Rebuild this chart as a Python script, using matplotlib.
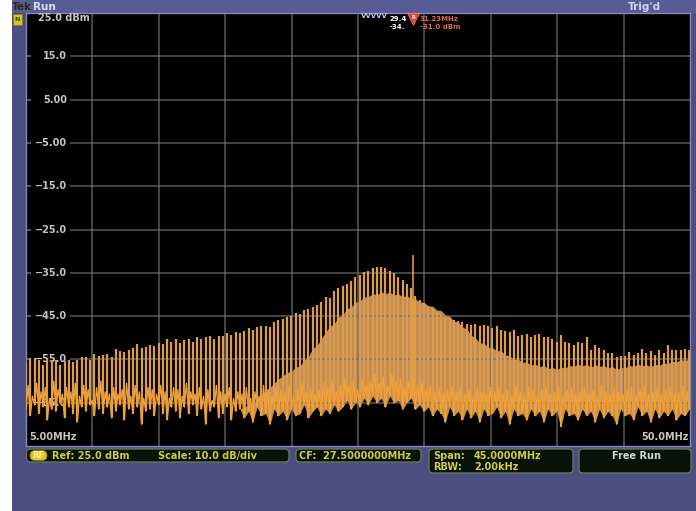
import numpy as np
import matplotlib.pyplot as plt
from matplotlib.patches import Rectangle, FancyBboxPatch

# instrument settings
ref_level = 25.0      # dBm, top of screen
scale_db = 10.0       # dB per division
start_mhz = 5.0
stop_mhz = 50.0
center_mhz = 27.5
span_mhz = 45.0
rbw_khz = 2.00
line_spacing = 0.29   # MHz between comb lines

# marker readouts
marker_freq = 31.23
marker_level = -31.0
marker2_freq = 29.4
marker2_level = -34.0

y_labels = ['15.0', '5.00', '\u22125.00', '\u221215.0', '\u221225.0',
            '\u221235.0', '\u221245.0', '\u221255.0', '\u221265.0']

# top of each comb line (dBm) left to right
peak_dbm = [
    -55.9, -54.7, -54.7, -55.1, -56.3, -54.7, -55.1, -55.1, -56.3, -55.3,
    -55.1, -55.5, -55.1, -54.5, -54.5, -55.1, -53.8, -54.2, -54.0, -53.8,
    -54.4, -52.7, -53.0, -53.2, -52.8, -52.4, -51.4, -52.4, -52.1, -51.6,
    -52.0, -51.2, -51.5, -50.3, -51.0, -50.4, -51.3, -50.6, -50.4, -50.9,
    -49.9, -50.3, -49.8, -49.6, -50.2, -49.5, -49.7, -49.0, -49.3, -48.7,
    -48.9, -48.4, -47.8, -48.1, -47.6, -47.4, -47.2, -47.5, -46.4, -46.0,
    -45.6, -45.3, -45.0, -44.2, -44.5, -43.6, -43.3, -42.9, -42.5, -41.8,
    -40.5, -40.9, -39.3, -38.5, -38.0, -37.6, -36.8, -35.9, -35.6, -34.9,
    -34.6, -34.0, -33.7, -33.6, -33.9, -34.6, -35.0, -35.9, -36.6, -37.6,
    -38.4, -40.3, -41.2, -42.0, -42.8, -43.2, -44.0, -44.5, -45.0, -45.5,
    -45.9, -46.1, -46.3, -46.8, -47.0, -46.9, -47.3, -47.1, -47.3, -47.8,
    -47.4, -48.2, -48.4, -48.6, -48.2, -49.6, -49.4, -49.1, -49.8, -49.4,
    -49.1, -49.9, -49.8, -50.4, -50.9, -49.4, -50.9, -51.3, -51.7, -50.9,
    -51.3, -49.9, -52.8, -51.7, -52.4, -52.8, -53.6, -53.6, -54.4, -54.2,
    -54.2, -53.2, -54.0, -53.6, -52.7, -53.6, -53.0, -54.0, -52.8, -53.6,
    -51.7, -52.8, -52.8, -52.8, -52.7, -52.8,
]

# bottom of each comb line (dBm)
floor_dbm = [
    -66.5, -68.0, -65.5, -67.5, -66.0, -69.0, -66.5, -67.0, -65.0, -68.5,
    -66.0, -67.5, -69.5, -66.0, -67.0, -65.5, -68.0, -66.5, -67.5, -66.0,
    -68.5, -67.0, -65.5, -69.0, -66.5, -67.5, -66.0, -70.0, -67.0, -66.5,
    -68.0, -65.5, -67.5, -69.0, -66.0, -67.0, -68.5, -66.0, -67.5, -65.5,
    -68.0, -66.5, -70.0, -67.0, -66.0, -68.5, -67.5, -66.0, -69.0, -67.0,
    -66.5, -68.5, -67.0, -69.5, -66.0, -68.0, -67.5, -70.0, -66.5, -68.0,
    -67.0, -69.0, -66.5, -68.0, -67.5, -65.5, -68.5, -67.0, -66.0, -68.0,
    -66.5, -67.5, -65.5, -67.0, -66.0, -64.5, -66.5, -65.0, -66.0, -64.0,
    -65.5, -63.5, -65.0, -64.0, -66.0, -63.5, -65.0, -64.5, -66.5, -65.0,
    -64.0, -66.5, -65.5, -67.0, -66.0, -68.0, -66.5, -67.5, -69.5, -66.0,
    -68.0, -67.0, -69.0, -66.5, -68.5, -67.0, -69.5, -66.5, -68.0, -67.5,
    -66.0, -68.5, -67.0, -70.0, -66.5, -68.0, -67.5, -69.0, -66.5, -68.0,
    -67.0, -69.5, -66.5, -68.0, -67.0, -70.5, -66.5, -68.0, -67.5, -69.0,
    -66.5, -68.0, -67.0, -69.5, -66.5, -68.5, -67.0, -68.0, -70.0, -66.5,
    -68.0, -67.5, -69.0, -66.0, -68.0, -67.0, -69.5, -66.5, -68.5, -67.0,
    -68.0, -66.5, -69.0, -67.5, -68.0, -66.5,
]

# noise level halfway between lines (dBm)
gap_dbm = [
    -61.0, -63.5, -60.5, -62.5, -61.5, -64.0, -60.0, -62.0, -63.0, -61.5,
    -62.5, -60.5, -63.5, -61.0, -62.0, -64.5, -61.5, -60.0, -62.5, -63.0,
    -61.5, -63.0, -62.0, -60.5, -63.5, -61.0, -62.5, -64.0, -61.5, -62.0,
    -63.0, -61.0, -62.5, -64.0, -61.5, -62.0, -63.5, -60.5, -62.5, -63.0,
    -61.5, -63.5, -62.0, -64.5, -61.0, -62.5, -63.0, -61.5, -64.0, -62.5,
    -63.0, -61.5, -64.0, -62.5, -63.5, -61.0, -62.5, -63.5, -61.5, -62.0,
    -62.5, -61.0, -63.5, -62.0, -60.5, -62.5, -61.5, -63.0, -62.0, -60.5,
    -61.5, -60.0, -62.5, -61.0, -59.5, -61.0, -60.0, -62.0, -59.5, -61.0,
    -60.0, -58.5, -60.5, -59.0, -61.0, -58.5, -60.0, -59.5, -61.5, -60.0,
    -59.5, -61.0, -60.5, -62.0, -61.0, -62.5, -61.5, -63.0, -62.0, -61.0,
    -62.5, -61.5, -63.0, -62.0, -63.5, -61.5, -62.5, -63.0, -61.5, -62.5,
    -61.5, -63.0, -62.0, -63.5, -61.0, -62.5, -63.0, -61.5, -62.0, -63.5,
    -62.0, -61.0, -63.0, -62.5, -61.5, -63.5, -62.0, -61.5, -63.0, -62.5,
    -61.5, -63.0, -62.0, -63.5, -61.0, -62.5, -63.0, -61.5, -62.5, -63.0,
    -62.0, -61.5, -63.5, -62.0, -61.0, -63.0, -62.5, -61.5, -63.0, -62.0,
    -61.5, -63.0, -62.5, -61.0, -62.5, -63.0,
]

# top of the dense band, from comb line 50 onward (dBm)
band_start = 50
band_dbm = [
    -66.5, -66.0, -65.5, -65.0, -64.3, -63.5, -62.0, -61.5, -60.5, -59.5,
    -58.8, -58.0, -57.8, -56.8, -56.5, -55.2, -54.3, -52.5, -51.8, -50.2,
    -48.8, -47.3, -46.8, -45.2, -44.8, -43.3, -42.9, -41.8, -41.5, -40.6,
    -40.5, -39.8, -40.1, -39.4, -39.8, -39.5, -40.1, -39.9, -40.5, -40.3,
    -41.0, -41.0, -41.8, -41.8, -42.6, -42.7, -43.6, -43.7, -44.7, -45.0,
    -46.2, -46.4, -47.5, -48.0, -49.4, -50.0, -51.2, -51.3, -52.2, -52.3,
    -53.0, -53.0, -54.0, -54.1, -55.0, -54.9, -55.7, -55.6, -56.3, -56.1,
    -56.7, -56.3, -57.2, -56.8, -57.4, -56.8, -57.0, -56.4, -56.6, -56.1,
    -56.5, -56.1, -56.8, -56.2, -56.6, -56.4, -57.0, -56.6, -57.4, -56.8,
    -57.0, -56.4, -56.6, -56.1, -56.5, -56.2, -56.7, -56.1, -56.4, -55.8,
    -56.0, -55.4, -55.6, -55.0, -55.3, -54.8,
]

BG = '#4a4e80'
BAR = '#575c94'
GRID = '#6e6e6e'
LABEL = '#c4c4c4'
BRIGHT = '#f5a030'
LINE = '#da9b52'
TAN = '#c48d50'
YEL = '#cfcc45'

W, H = 696, 511
fig = plt.figure(figsize=(W / 100, H / 100), dpi=100)

# frame in pixel coordinates
bg = fig.add_axes([0, 0, 1, 1])
bg.set_xlim(0, W)
bg.set_ylim(H, 0)
bg.set_axis_off()
bg.add_patch(Rectangle((0, 0), 12, H, fc='white', ec='none'))
bg.add_patch(Rectangle((12, 0), W - 12, H, fc=BG, ec='none'))
bg.add_patch(Rectangle((12, 0), W - 12, 13, fc=BAR, ec='none'))
bg.text(12, 6.5, 'Tek', color='#2a2a12', fontsize=7.5, fontweight='bold', va='center')
bg.text(33, 6.5, 'Run', color='#d8dcf5', fontsize=7.5, fontweight='bold', va='center')
bg.text(628, 6.5, "Trig'd", color='#cfd3f0', fontsize=7.5, fontweight='bold', va='center')
bg.add_patch(Rectangle((13, 14), 9, 11, fc='#d9c31d', ec='#8a7a10', lw=0.5))
bg.text(17.5, 19.5, 'N', color='#1e5a1e', fontsize=4.5, fontweight='bold', ha='center', va='center')

# status boxes
def box(x, y, w, h):
    bg.add_patch(FancyBboxPatch((x, y), w, h, boxstyle='round,pad=0,rounding_size=4',
                                fc='#081208', ec='#66765a', lw=1))

box(26.5, 449, 262.5, 13)
box(296, 449, 125, 13)
box(429, 449, 144, 24)
box(579, 449, 112, 24)
bg.add_patch(FancyBboxPatch((30, 450.5), 17, 10, boxstyle='round,pad=0,rounding_size=5',
                            fc='#e3c22a', ec='#8a7010', lw=0.6))
bg.text(38.5, 455.8, 'RF', color='#fff2a0', fontsize=6, fontweight='bold', ha='center', va='center')
fs = 7
bg.text(52, 455.8, f'Ref: {ref_level:.1f} dBm', color=YEL, fontsize=fs, fontweight='bold', va='center')
bg.text(158, 455.8, f'Scale: {scale_db:.1f} dB/div', color=YEL, fontsize=fs, fontweight='bold', va='center')
bg.text(299, 455.8, f'CF:  {center_mhz:.7f}MHz', color=YEL, fontsize=fs, fontweight='bold', va='center')
bg.text(433, 455.8, 'Span:', color=YEL, fontsize=fs, fontweight='bold', va='center')
bg.text(474, 455.8, f'{span_mhz:.4f}MHz', color=YEL, fontsize=fs, fontweight='bold', va='center')
bg.text(433, 466.5, 'RBW:', color=YEL, fontsize=fs, fontweight='bold', va='center')
bg.text(474, 466.5, f'{rbw_khz:.2f}kHz', color=YEL, fontsize=fs, fontweight='bold', va='center')
bg.text(636, 455.8, 'Free Run', color='#d0dcd0', fontsize=fs, fontweight='bold', ha='center', va='center')

# graticule
ax = fig.add_axes([26 / W, 1 - 446 / H, 664 / W, 433 / H])
ax.set_facecolor('black')
ax.set_xlim(start_mhz, stop_mhz)
ax.set_ylim(ref_level - 10 * scale_db, ref_level)
ax.set_xticks([])
ax.set_yticks([])
for s in ax.spines.values():
    s.set_color('#8489b8')
    s.set_linewidth(1)

levels = ref_level - scale_db * np.arange(1, 10)
ytr = ax.get_yaxis_transform()
ax.vlines(start_mhz + (stop_mhz - start_mhz) / 10 * np.arange(1, 10),
          ref_level - 10 * scale_db, ref_level, color=GRID, lw=1.1, zorder=2.5, alpha=0.8)
ax.hlines(levels, 0.066, 1, transform=ytr, color=GRID, lw=1.1, zorder=2.5, alpha=0.8)
ax.hlines(levels, 0.002, 0.008, transform=ytr, color=GRID, lw=1.1, zorder=2.5)
for lv, lab in zip(levels, y_labels):
    ax.text(0.0615, lv, lab, transform=ytr, color=LABEL, fontsize=7, fontweight='bold',
            ha='right', va='center', zorder=1.5)
ax.text(0.018, 0.988, f'{ref_level:.1f} dBm', transform=ax.transAxes, color=LABEL,
        fontsize=7, fontweight='bold', va='center')
ax.text(0.005, 0.02, f'{start_mhz:.2f}MHz', transform=ax.transAxes, color=LABEL,
        fontsize=7, fontweight='bold', va='center')
ax.text(0.998, 0.02, f'{stop_mhz:.1f}MHz', transform=ax.transAxes, color=LABEL,
        fontsize=7, fontweight='bold', ha='right', va='center')

# spectrum
peak = np.array(peak_dbm)
floor = np.array(floor_dbm)
gap = np.array(gap_dbm)
freqs = start_mhz + line_spacing * np.arange(len(peak))

band = np.full(len(peak), np.nan)
band[band_start:band_start + len(band_dbm)] = band_dbm
has_band = ~np.isnan(band)
ax.fill_between(freqs, floor, band, where=has_band, color=TAN, lw=0, zorder=2)

# comb lines, then the noise running between them
ax.vlines(freqs, floor, peak, color=LINE, lw=1.6, zorder=3)
xs, ys = [], []
for f, lo, mid in zip(freqs, floor, gap):
    xs += [f, f + line_spacing / 2]
    ys += [lo, mid]
ax.plot(xs, ys, color=BRIGHT, lw=0.95, zorder=3.5)

k_near = np.argmin(np.abs(freqs - marker_freq))
ax.vlines(marker_freq, floor[k_near], marker_level, color=BRIGHT, lw=1.1, zorder=3.6)

# marker flags and readouts
xtr = ax.get_xaxis_transform()
ax.plot(marker_freq, 0.985, marker='v', ms=8, color='#e8392a', mec='#ff9a8a', mew=0.4,
        transform=xtr, clip_on=False, zorder=5)
ax.text(marker_freq, 0.99, 'R', transform=xtr, color='white', fontsize=3.5, fontweight='bold',
        ha='center', va='center', zorder=6)
ax.text(marker2_freq + 0.15, 0.993, 'VVVVV', transform=xtr, color='#bccaf2', fontsize=5,
        fontweight='bold', ha='right', va='center', zorder=5)
ax.text(marker2_freq + 0.25, 0.985, f'{marker2_freq:.1f}', transform=xtr, color='white',
        fontsize=5, fontweight='bold', va='center', zorder=5)
ax.text(marker2_freq + 1.3, 0.968, f'{marker2_level:.0f}.', transform=xtr, color='white',
        fontsize=5, fontweight='bold', ha='right', va='center', zorder=5)
ax.text(marker_freq + 0.45, 0.985, f'{marker_freq:.2f}MHz', transform=xtr, color='#e07040',
        fontsize=5, fontweight='bold', va='center', zorder=5)
ax.text(marker_freq + 0.45, 0.968, f'{marker_level:.1f} dBm', transform=xtr, color='#e07040',
        fontsize=5, fontweight='bold', va='center', zorder=5)

fig.savefig('out.png', dpi=100, facecolor='white')
